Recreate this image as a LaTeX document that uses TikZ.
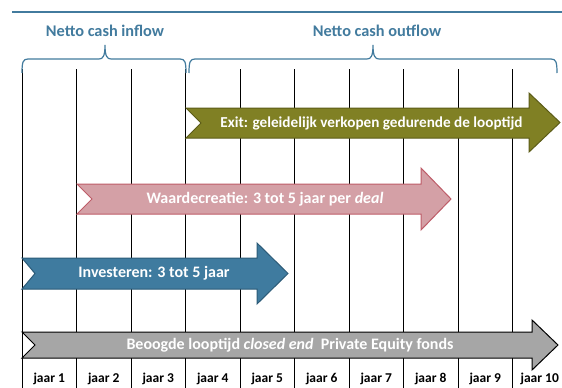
\documentclass[tikz,border=0pt]{standalone}
\usepackage{fontspec}
\setmainfont{Carlito}
\definecolor{tblue}{HTML}{427B9E}
\definecolor{ablue}{HTML}{3F7B9F}
\definecolor{ablueb}{HTML}{2C5B78}
\definecolor{olive}{HTML}{808024}
\definecolor{oliveb}{HTML}{5C5C18}
\definecolor{pinkf}{HTML}{D4A0A6}
\definecolor{pinkb}{HTML}{BE5C68}
\definecolor{greyf}{HTML}{A6A6A6}
\tikzset{
  grid/.style={line width=1pt,black},
  arrowshape/.style={line width=1pt,line join=miter},
  arrowtext/.style={text=white,font=\fontsize{16}{19}\selectfont\bfseries,inner sep=0pt},
  yeartext/.style={font=\fontsize{13.5}{16}\selectfont\bfseries,inner sep=0pt},
  headtext/.style={text=tblue,font=\fontsize{16.3}{19}\selectfont\bfseries,inner sep=0pt},
  bracestyle/.style={tblue,line width=1.2pt},
}
\begin{document}
\begin{tikzpicture}[x=1pt,y=-1pt]
\useasboundingbox (0,0) rectangle (562,388);
\fill[white] (0,0) rectangle (562,388);
% top line
\draw[tblue,line width=2.2pt] (12,12) -- (562,12);
% vertical grid lines
\foreach \i in {0,...,9}{
  \draw[grid] ({22+54.5*\i},69) -- ({22+54.5*\i},388);
}
% year labels
\foreach \i in {1,...,10}{
  \node[yeartext] (y\i) at ({22+54.5*(\i-1)+27.25},379) {jaar \i};
}
% braces
\draw[bracestyle] (22,73) .. controls (22,62) and (23,59) .. (28,59) -- (99,59)
  .. controls (103,59) and (105,56) .. (105,45)
  .. controls (105,56) and (107,59) .. (111,59) -- (180,59)
  .. controls (185,59) and (186,62) .. (186,73);
\draw[bracestyle] (189,73) .. controls (189,62) and (190,59) .. (195,59) -- (367,59)
  .. controls (371,59) and (373,56) .. (373,45)
  .. controls (373,56) and (375,59) .. (379,59) -- (551,59)
  .. controls (556,59) and (557,62) .. (557,73);
\node[headtext] (inflow) at (105,31) {Netto cash inflow};
\node[headtext] (outflow) at (377,31) {Netto cash outflow};
% Exit arrow
\filldraw[arrowshape,fill=olive,draw=oliveb] (186,108) -- (529,108) -- (529,93) -- (560,122.5)
  -- (529,152) -- (529,138) -- (186,138) -- (201,123) -- cycle;
\node[arrowtext,font=\fontsize{15.2}{18}\selectfont\bfseries] (exit) at (371.5,123) {Exit: geleidelijk verkopen gedurende de looptijd};
% Waardecreatie arrow
\filldraw[arrowshape,fill=pinkf,draw=pinkb] (77,184) -- (421,184) -- (421,168) -- (451,199)
  -- (421,230) -- (421,214) -- (77,214) -- (92,199) -- cycle;
\node[arrowtext] (waarde) at (265,199) {Waardecreatie: 3 tot 5 jaar per \textit{deal}};
% Investeren arrow
\filldraw[arrowshape,fill=ablue,draw=ablueb] (22,258) -- (257,258) -- (257,243) -- (288,273.5)
  -- (257,304) -- (257,289) -- (22,289) -- (35,273.5) -- cycle;
\node[arrowtext] (invest) at (154,273.5) {Investeren: 3 tot 5 jaar};
% Grey arrow
\filldraw[arrowshape,fill=greyf,draw=black] (22,332) -- (532,332) -- (532,320) -- (558,345)
  -- (532,370) -- (532,358) -- (22,358) -- (35,345) -- cycle;
\node[arrowtext] (fund) at (290,345) {Beoogde looptijd \textit{closed end}\ \ Private Equity fonds};
\end{tikzpicture}
\end{document}
